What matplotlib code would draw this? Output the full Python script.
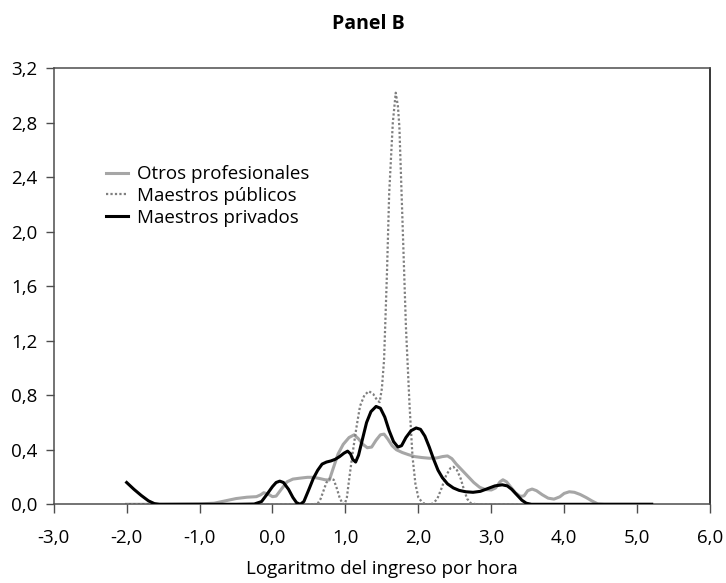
import matplotlib.pyplot as plt

plt.rcParams['font.family'] = ['Open Sans', 'DejaVu Sans']

# Densidades estimadas del logaritmo del ingreso por hora
otros_x = [-2.00, -1.50, -1.00, -0.80, -0.65, -0.50, -0.35, -0.22, -0.16, -0.12,
           -0.06, 0.00, 0.05, 0.12, 0.20, 0.28, 0.38, 0.48, 0.56, 0.64,
           0.72, 0.78, 0.83, 0.90, 0.97, 1.05, 1.12, 1.18, 1.24, 1.30,
           1.36, 1.42, 1.48, 1.53, 1.58, 1.64, 1.70, 1.78, 1.86, 1.95,
           2.05, 2.15, 2.25, 2.33, 2.40, 2.46, 2.52, 2.60, 2.68, 2.76,
           2.84, 2.92, 3.00, 3.06, 3.12, 3.16, 3.21, 3.27, 3.33, 3.40,
           3.45, 3.50, 3.56, 3.62, 3.70, 3.78, 3.86, 3.94, 4.00, 4.07,
           4.14, 4.22, 4.30, 4.38, 4.46, 4.55, 5.20]
otros_y = [0.000, 0.000, 0.003, 0.008, 0.025, 0.042, 0.052, 0.056, 0.070, 0.085,
           0.075, 0.056, 0.060, 0.110, 0.165, 0.185, 0.192, 0.198, 0.198, 0.190,
           0.180, 0.178, 0.260, 0.370, 0.440, 0.490, 0.510, 0.480, 0.440, 0.415,
           0.420, 0.470, 0.510, 0.515, 0.480, 0.430, 0.400, 0.380, 0.365, 0.350,
           0.343, 0.338, 0.340, 0.350, 0.355, 0.335, 0.295, 0.250, 0.205, 0.160,
           0.125, 0.108, 0.105, 0.120, 0.165, 0.180, 0.165, 0.125, 0.085, 0.058,
           0.062, 0.100, 0.112, 0.100, 0.070, 0.045, 0.038, 0.055, 0.080, 0.092,
           0.088, 0.072, 0.050, 0.025, 0.003, 0.000, 0.000]

publicos_x = [-2.00, 0.00, 0.55, 0.62, 0.66, 0.70, 0.74, 0.79, 0.84, 0.88,
              0.92, 0.96, 0.99, 1.02, 1.06, 1.10, 1.15, 1.20, 1.26, 1.32,
              1.38, 1.44, 1.47, 1.50, 1.53, 1.57, 1.60, 1.65, 1.69, 1.72,
              1.74, 1.785, 1.83, 1.88, 1.92, 1.96, 2.00, 2.06, 2.12, 2.20,
              2.26, 2.32, 2.38, 2.44, 2.48, 2.53, 2.58, 2.63, 2.67, 2.72,
              2.80, 5.20]
publicos_y = [0.000, 0.000, 0.000, 0.005, 0.040, 0.100, 0.160, 0.190, 0.180, 0.120,
              0.050, 0.005, 0.000, 0.050, 0.220, 0.380, 0.560, 0.720, 0.800, 0.830,
              0.810, 0.760, 0.750, 0.850, 1.060, 1.700, 2.280, 2.800, 3.020, 2.920,
              2.770, 2.040, 1.300, 0.720, 0.350, 0.150, 0.050, 0.010, 0.000, 0.005,
              0.040, 0.120, 0.210, 0.265, 0.275, 0.250, 0.190, 0.100, 0.040, 0.008,
              0.000, 0.000]

privados_x = [-2.00, -1.90, -1.80, -1.70, -1.62, -1.55, -1.00, -0.50, -0.25, -0.15,
              -0.08, 0.00, 0.05, 0.10, 0.15, 0.22, 0.28, 0.33, 0.38, 0.43,
              0.50, 0.56, 0.62, 0.68, 0.74, 0.80, 0.86, 0.92, 0.98, 1.03,
              1.07, 1.10, 1.14, 1.18, 1.23, 1.29, 1.35, 1.42, 1.48, 1.54,
              1.60, 1.66, 1.72, 1.77, 1.83, 1.90, 1.97, 2.03, 2.09, 2.15,
              2.21, 2.27, 2.33, 2.40, 2.48, 2.56, 2.65, 2.75, 2.85, 2.95,
              3.05, 3.15, 3.22, 3.28, 3.35, 3.42, 3.48, 3.55, 4.50, 5.20]
privados_y = [0.160, 0.110, 0.065, 0.025, 0.005, 0.000, 0.000, 0.000, 0.002, 0.020,
              0.070, 0.130, 0.160, 0.170, 0.160, 0.110, 0.050, 0.012, 0.000, 0.020,
              0.110, 0.190, 0.250, 0.295, 0.310, 0.318, 0.330, 0.350, 0.375, 0.390,
              0.370, 0.330, 0.310, 0.360, 0.470, 0.600, 0.680, 0.718, 0.705, 0.640,
              0.540, 0.460, 0.420, 0.430, 0.490, 0.540, 0.560, 0.550, 0.500, 0.420,
              0.330, 0.250, 0.195, 0.150, 0.120, 0.102, 0.092, 0.088, 0.095, 0.115,
              0.135, 0.143, 0.135, 0.110, 0.070, 0.030, 0.008, 0.000, 0.000, 0.000]

xticks = [-3, -2, -1, 0, 1, 2, 3, 4, 5, 6]
xtick_labels = ['-3,0', '-2,0', '-1,0', '0,0', '1,0', '2,0', '3,0', '4,0', '5,0', '6,0']
yticks = [0.0, 0.4, 0.8, 1.2, 1.6, 2.0, 2.4, 2.8, 3.2]
ytick_labels = ['0,0', '0,4', '0,8', '1,2', '1,6', '2,0', '2,4', '2,8', '3,2']

fig = plt.figure(figsize=(7.26, 5.83), dpi=100)
ax = fig.add_axes([0.074, 0.135, 0.904, 0.748])

ax.plot(otros_x, otros_y, color='#a6a6a6', lw=2.2, label='Otros profesionales', zorder=2)
ax.plot(publicos_x, publicos_y, color='#7f7f7f', lw=1.6, ls=(0, (1, 1)),
        label='Maestros públicos', zorder=3)
ax.plot(privados_x, privados_y, color='black', lw=2.2, label='Maestros privados', zorder=4)

ax.set_xlim(-3, 6)
ax.set_ylim(0, 3.2)
ax.set_xticks(xticks)
ax.set_xticklabels(xtick_labels)
ax.set_yticks(yticks)
ax.set_yticklabels(ytick_labels)
ax.tick_params(axis='x', direction='out', length=6.5, width=1.0, color='#4d4d4d',
               labelsize=13.5, pad=11)
ax.tick_params(axis='y', direction='out', length=5.5, width=1.0, color='#4d4d4d',
               labelsize=13.5, pad=6.5)

for side in ['left', 'bottom', 'top']:
    ax.spines[side].set_color('#4d4d4d')
    ax.spines[side].set_linewidth(1.1)
ax.spines['right'].set_color('black')
ax.spines['right'].set_linewidth(1.1)

ax.set_xlabel('Logaritmo del ingreso por hora', fontsize=13.5, labelpad=10)
fig.text(0.508, 0.958, 'Panel B', fontsize=14, fontweight='bold', ha='center', va='center')

ax.legend(loc='upper left', bbox_to_anchor=(0.0676, 0.795), frameon=False, fontsize=13.5,
          handlelength=1.2, handletextpad=0.5, labelspacing=0.2, borderaxespad=0)

fig.savefig('out.png', dpi=100)
